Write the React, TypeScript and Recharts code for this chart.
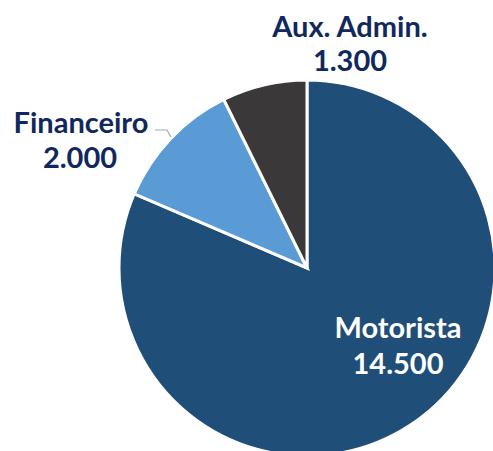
import React from "react";
import { PieChart, Pie, Cell } from "recharts";

const categories = ["Motorista", "Financeiro", "Aux. Admin."];
const values = [14500, 2000, 1300];
const valueLabels = ["14.500", "2.000", "1.300"];
const colors = ["#1F4E79", "#5B9BD5", "#3A3838"];

const data = categories.map((name, i) => ({ name, value: values[i], label: valueLabels[i] }));

const FONT = "Lato, 'Open Sans', sans-serif";

const renderLabel = (props: any) => {
  const { cx, cy, index } = props;
  const navy = "#10285E";
  const fs = 29;
  if (index === 0) {
    return (
      <g>
        <text x={cx + 91} y={cy + 70} textAnchor="middle" fill="#FFFFFF" fontSize={fs} fontWeight={700} fontFamily={FONT}>
          {categories[0]}
        </text>
        <text x={cx + 91} y={cy + 106} textAnchor="middle" fill="#FFFFFF" fontSize={fs} fontWeight={700} fontFamily={FONT}>
          {valueLabels[0]}
        </text>
      </g>
    );
  }
  if (index === 1) {
    return (
      <g>
        <text x={cx - 226} y={cy - 135} textAnchor="middle" fill={navy} fontSize={fs} fontWeight={700} fontFamily={FONT}>
          {categories[1]}
        </text>
        <text x={cx - 227} y={cy - 100} textAnchor="middle" fill={navy} fontSize={fs} fontWeight={700} fontFamily={FONT}>
          {valueLabels[1]}
        </text>
        <polyline
          points={`${cx - 152},${cy - 138} ${cx - 140},${cy - 138} ${cx - 136},${cy - 131}`}
          fill="none"
          stroke="#A6A6A6"
          strokeWidth={1.2}
        />
      </g>
    );
  }
  return (
    <g>
      <text x={cx + 43} y={cy - 231} textAnchor="middle" fill={navy} fontSize={fs} fontWeight={700} fontFamily={FONT}>
        {categories[2]}
      </text>
      <text x={cx + 43} y={cy - 197} textAnchor="middle" fill={navy} fontSize={fs} fontWeight={700} fontFamily={FONT}>
        {valueLabels[2]}
      </text>
    </g>
  );
};

export default function App() {
  return (
    <div style={{ position: "absolute", left: 0, top: 0, width: 493, height: 451, overflow: "hidden", background: "#fff" }}>
      <PieChart width={493} height={451} margin={{ top: 0, right: 0, bottom: 0, left: 0 }}>
        <Pie
          data={data}
          dataKey="value"
          nameKey="name"
          cx={307}
          cy={268}
          outerRadius={188}
          startAngle={90}
          endAngle={-270}
          stroke="#FFFFFF"
          strokeWidth={3}
          isAnimationActive={false}
          label={renderLabel}
          labelLine={false}
        >
          {data.map((d, i) => (
            <Cell key={d.name} fill={colors[i]} />
          ))}
        </Pie>
      </PieChart>
    </div>
  );
}
